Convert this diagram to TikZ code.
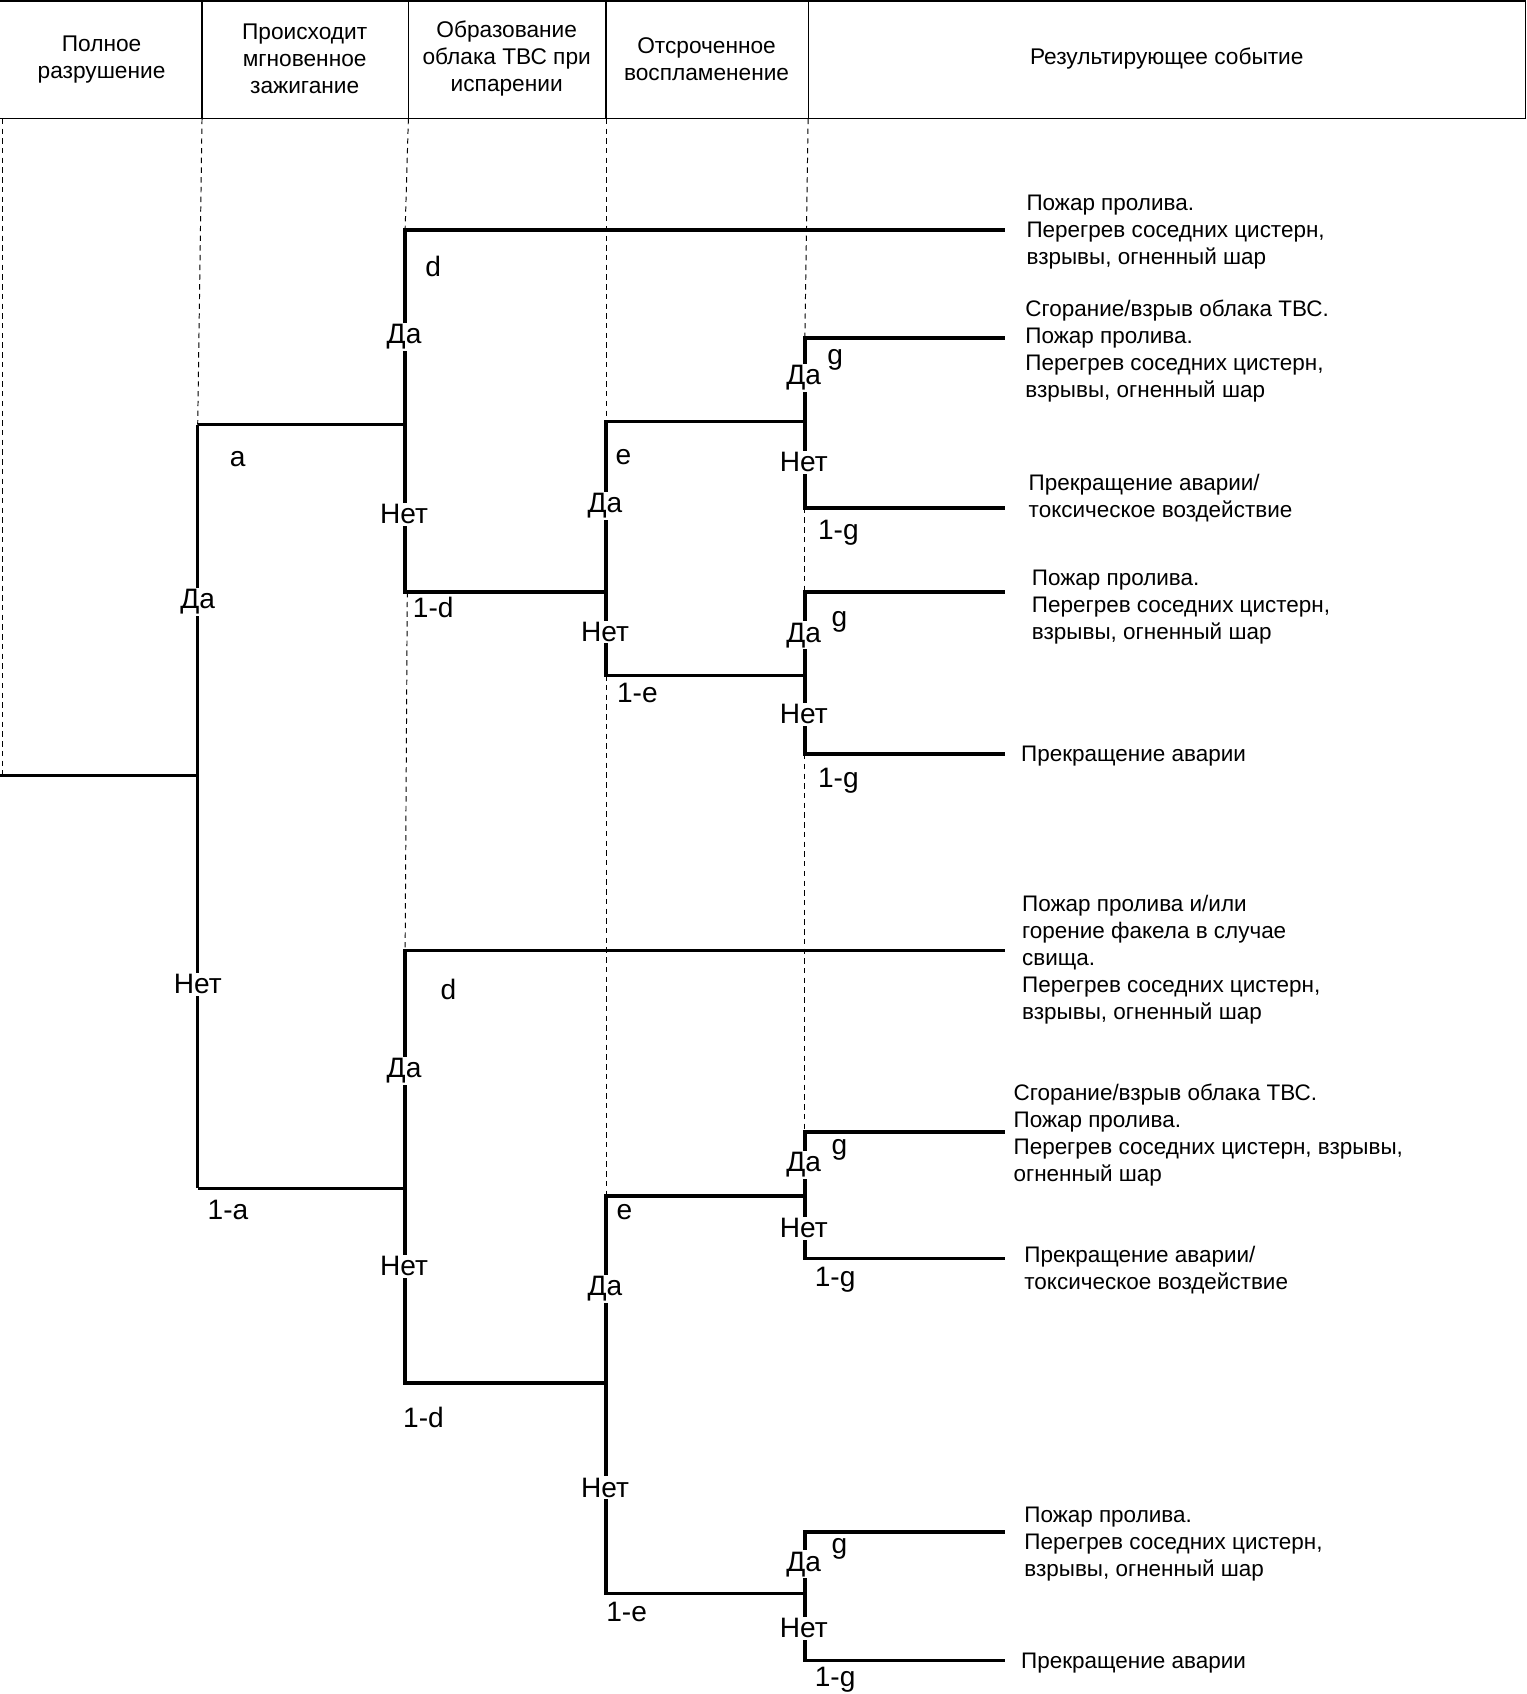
\documentclass[tikz,border=0pt]{standalone}
\usepackage{fontspec}
\setmainfont{Liberation Sans}
\begin{document}
\begin{tikzpicture}[x=1pt,y=-1pt,
  br/.style={line width=3.2pt},
  guide/.style={line width=0.9pt, dash pattern=on 5pt off 4pt},
  frame/.style={line width=1.1pt},
  lbl/.style={fill=white, inner sep=1.5pt, font=\fontsize{26}{28}\selectfont},
  prob/.style={inner sep=0pt, font=\fontsize{26}{28}\selectfont},
  res/.style={anchor=west, align=left, inner sep=0pt, font=\fontsize{20.8}{25}\selectfont},
  hdr/.style={align=center, inner sep=0pt, font=\fontsize{21}{25}\selectfont}]
\useasboundingbox (0,0) rectangle (1413,1568);

% header
\draw[frame] (0,1) -- (1412,1) -- (1412,110) -- (0,110);
\foreach \x in {187,378,561,748} \draw[frame] (\x,1) -- (\x,110);
\node[hdr] (h1) at (94,55) {Полное\\разрушение};
\node[hdr] (h2) at (282,54) {Происходит\\мгновенное\\зажигание};
\node[hdr] (h3) at (469,54) {Образование\\облака ТВС при\\испарении};
\node[hdr] (h4) at (654,55) {Отсроченное\\воспламенение};
\node[hdr] (h5) at (1080,54) {Результирующее событие};

% guides
\draw[guide] (2,110) -- (2,718);
\draw[guide] (187,110) -- (183,393);
\draw[guide] (378,110) -- (375,213);
\draw[guide] (377,548) -- (375,880);
\draw[guide] (561,110) -- (561,390);
\draw[guide] (561,625) -- (561,1107);
\draw[guide] (748,110) -- (745,313);
\draw[guide] (745,470) -- (745,548);
\draw[guide] (745,698) -- (745,1048);

% coordinates
\coordinate (root) at (0,718);
\coordinate (A) at (183,718);
\coordinate (Atop) at (183,393);
\coordinate (Abot) at (183,1100);
\coordinate (D1t) at (375,213);
\coordinate (D1j) at (375,393);
\coordinate (D1b) at (375,548);
\coordinate (E1t) at (561,390);
\coordinate (E1j) at (561,548);
\coordinate (E1b) at (561,625);
\coordinate (G1t) at (745,313);
\coordinate (G1j) at (745,390);
\coordinate (G1b) at (745,470);
\coordinate (G2t) at (745,548);
\coordinate (G2j) at (745,625);
\coordinate (G2b) at (745,698);
\coordinate (D2t) at (375,880);
\coordinate (D2j) at (375,1100);
\coordinate (D2b) at (375,1280);
\coordinate (E2t) at (561,1107);
\coordinate (E2j) at (561,1280);
\coordinate (E2b) at (561,1475);
\coordinate (G3t) at (745,1048);
\coordinate (G3j) at (745,1107);
\coordinate (G3b) at (745,1165);
\coordinate (G4t) at (745,1418);
\coordinate (G4j) at (745,1475);
\coordinate (G4b) at (745,1537);
\coordinate (R1) at (930,213);
\coordinate (R2) at (930,313);
\coordinate (R3) at (930,470);
\coordinate (R4) at (930,548);
\coordinate (R5) at (930,698);
\coordinate (R6) at (930,880);
\coordinate (R7) at (930,1048);
\coordinate (R8) at (930,1165);
\coordinate (R9) at (930,1418);
\coordinate (R10) at (930,1537);

% branches
\draw[br] (root) -- (A);
\draw[br] (Atop) -- (Abot);
\draw[br] (Atop) -- (D1j);
\draw[br] (Abot) -- (D2j);
\draw[br] (R1) -- (D1t) -- (D1b) -- (E1j);
\draw[br] (G1j) -- (E1t) -- (E1b) -- (G2j);
\draw[br] (R2) -- (G1t) -- (G1b) -- (R3);
\draw[br] (R4) -- (G2t) -- (G2b) -- (R5);
\draw[br] (R6) -- (D2t) -- (D2b) -- (E2j);
\draw[br] (G3j) -- (E2t) -- (E2b) -- (G4j);
\draw[br] (R7) -- (G3t) -- (G3b) -- (R8);
\draw[br] (R9) -- (G4t) -- (G4b) -- (R10);

% yes/no labels
\node[lbl] (ya) at (183,557) {Да};
\node[lbl] (na) at (183,911) {Нет};
\node[lbl] (yd1) at (374,312) {Да};
\node[lbl] (nd1) at (374,476) {Нет};
\node[lbl] (ye1) at (560,468) {Да};
\node[lbl] (ne1) at (560,585) {Нет};
\node[lbl] (yg1) at (744,350) {Да};
\node[lbl] (ng1) at (744,428) {Нет};
\node[lbl] (yg2) at (744,588) {Да};
\node[lbl] (ng2) at (744,661) {Нет};
\node[lbl] (yd2) at (374,991) {Да};
\node[lbl] (nd2) at (374,1172) {Нет};
\node[lbl] (ye2) at (560,1193) {Да};
\node[lbl] (ne2) at (560,1377) {Нет};
\node[lbl] (yg3) at (744,1078) {Да};
\node[lbl] (ng3) at (744,1137) {Нет};
\node[lbl] (yg4) at (744,1448) {Да};
\node[lbl] (ng4) at (744,1507) {Нет};

% probabilities
\node[prob] (pa) at (220,425) {a};
\node[prob] (p1a) at (211,1120) {1-a};
\node[prob] (pd1) at (401,247) {d};
\node[prob] (p1d1) at (401,562) {1-d};
\node[prob] (pe1) at (577,423) {e};
\node[prob] (p1e1) at (590,641) {1-e};
\node[prob] (pg1) at (773,333) {g};
\node[prob] (p1g1) at (776,493) {1-g};
\node[prob] (pg2) at (777,576) {g};
\node[prob] (p1g2) at (776,723) {1-g};
\node[prob] (pd2) at (415,916) {d};
\node[prob] (p1d2) at (392,1312) {1-d};
\node[prob] (pe2) at (578,1122) {e};
\node[prob] (p1e2) at (580,1492) {1-e};
\node[prob] (pg3) at (777,1064) {g};
\node[prob] (p1g3) at (773,1185) {1-g};
\node[prob] (pg4) at (777,1434) {g};
\node[prob] (p1g4) at (773,1555) {1-g};

% results
\node[res] (r1) at (950,215) {Пожар пролива.\\Перегрев соседних цистерн,\\взрывы, огненный шар};
\node[res] (r2) at (949,325) {Сгорание/взрыв облака ТВС.\\Пожар пролива.\\Перегрев соседних цистерн,\\взрывы, огненный шар};
\node[res] (r3) at (952,461) {Прекращение аварии/\\токсическое воздействие};
\node[res] (r4) at (955,562) {Пожар пролива.\\Перегрев соседних цистерн,\\взрывы, огненный шар};
\node[res] (r5) at (945,700) {Прекращение аварии};
\node[res] (r6) at (946,888) {Пожар пролива и/или\\горение факела в случае\\свища.\\Перегрев соседних цистерн,\\взрывы, огненный шар};
\node[res] (r7) at (938,1051) {Сгорание/взрыв облака ТВС.\\Пожар пролива.\\Перегрев соседних цистерн, взрывы,\\огненный шар};
\node[res] (r8) at (948,1176) {Прекращение аварии/\\токсическое воздействие};
\node[res] (r9) at (948,1429) {Пожар пролива.\\Перегрев соседних цистерн,\\взрывы, огненный шар};
\node[res] (r10) at (945,1539) {Прекращение аварии};
\end{tikzpicture}
\end{document}
